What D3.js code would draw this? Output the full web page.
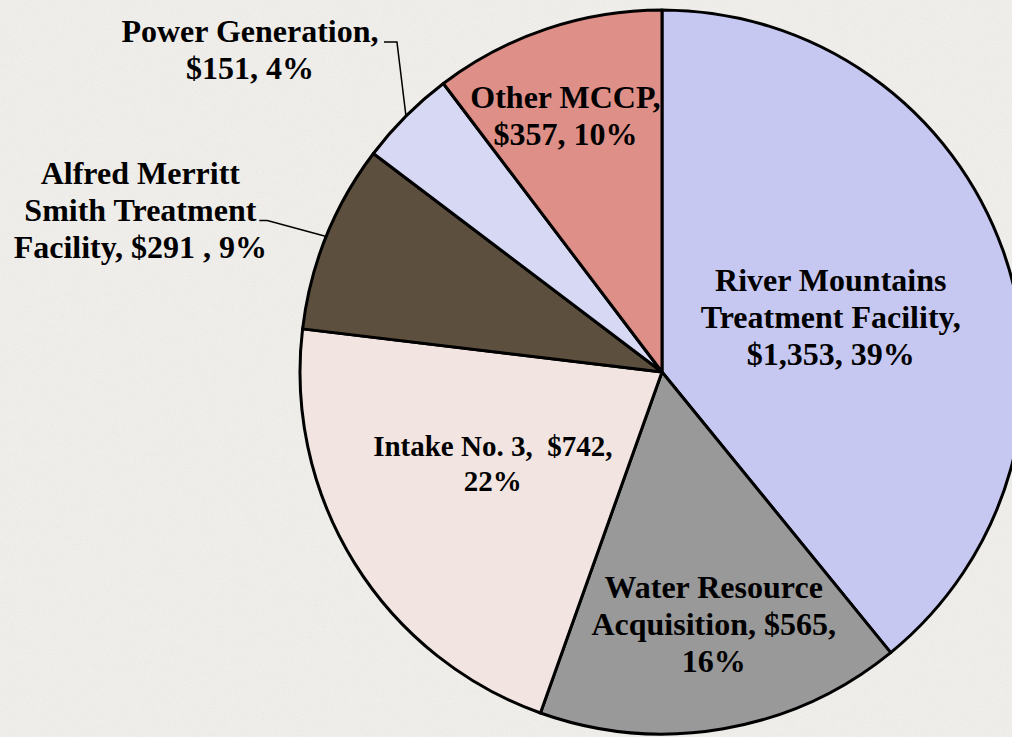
<!DOCTYPE html>
<html>
<head>
<meta charset="utf-8">
<script src="https://cdn.jsdelivr.net/npm/d3@7"></script>
<style>
  html, body { margin: 0; padding: 0; background: #f0eeea; overflow: hidden; }
  svg { display: block; }
  text { font-family: "Liberation Serif", "Times New Roman", serif; font-weight: bold; font-size: 32px; fill: #000; white-space: pre; }
</style>
</head>
<body>
<div id="chart"></div>
<script>
// slices, clockwise from 12 o'clock
const categories = [
  "River Mountains Treatment Facility",
  "Water Resource Acquisition",
  "Intake No. 3",
  "Alfred Merritt Smith Treatment Facility",
  "Power Generation",
  "Other MCCP"
];
const values = [1353, 565, 742, 291, 151, 357];
const percents = [39, 16, 22, 9, 4, 10];
// label text, line by line, as printed on the chart
const labelLines = [
  ["River Mountains", "Treatment Facility,", "$1,353, 39%"],
  ["Water Resource", "Acquisition, $565,", "16%"],
  ["Intake No. 3,  $742,", "22%"],
  ["Alfred Merritt", "Smith Treatment", "Facility, $291 , 9%"],
  ["Power Generation,", "$151, 4%"],
  ["Other MCCP,", "$357, 10%"]
];
const colors = ["#c7c8f1", "#999999", "#f2e5e1", "#5c4f3d", "#d7d8f4", "#de8f87"];

var width = 1012;
var height = 737;
var cx = 662, cy = 372, radius = 362;

// inside labels: radius along mid angle + small nudge; outside labels get a leader
const labelPlace = [
  { r: 177, dx: 2, dy: 5 },
  { r: 257, dx: 8, dy: -1 },
  { r: 192, dx: -6, dy: -9, size: 29, lh: 35 },
  { leader: true, elbow: [-59, -16], hook: -8, text: [-119, -10] },
  { leader: true, elbow: [-9, -74], hook: -13, text: [-134, 8] },
  { r: 275, dx: -9, dy: 5 }
];

const svg = d3.select("#chart").append("svg")
  .attr("width", width)
  .attr("height", height);

// paper-like texture
const defs = svg.append("defs");
const paper = defs.append("filter").attr("id", "paper")
  .attr("x", 0).attr("y", 0).attr("width", "100%").attr("height", "100%");
paper.append("feTurbulence")
  .attr("type", "fractalNoise").attr("baseFrequency", 0.9)
  .attr("numOctaves", 2).attr("seed", 3).attr("result", "noise");
paper.append("feColorMatrix").attr("in", "noise").attr("type", "matrix")
  .attr("values", "0 0 0 0 0.55  0 0 0 0 0.53  0 0 0 0 0.5  0 0 0 -2.2 1.25");

svg.append("rect").attr("width", width).attr("height", height).attr("fill", "#f0eeea");
svg.append("rect").attr("width", width).attr("height", height)
  .attr("filter", "url(#paper)").attr("opacity", 0.15);

const data = categories.map((c, i) => ({ name: c, value: values[i], pct: percents[i], lines: labelLines[i] }));

const pie = d3.pie().sort(null).value(d => d.value);
const arc = d3.arc().innerRadius(0).outerRadius(radius);
const arcs = pie(data);

const g = svg.append("g").attr("transform", `translate(${cx},${cy})`);

g.selectAll("path.slice")
  .data(arcs)
  .join("path")
  .attr("class", "slice")
  .attr("d", arc)
  .attr("fill", (d, i) => colors[i])
  .attr("stroke", "#000")
  .attr("stroke-width", 3)
  .attr("stroke-linejoin", "round");

function polar(angle, r) {
  return [r * Math.sin(angle), -r * Math.cos(angle)];
}

function addLabel(x, y, lines, size, lh) {
  size = size || 32;
  lh = lh || 37;
  const n = lines.length;
  const t = g.append("text").attr("text-anchor", "middle").style("font-size", size + "px");
  lines.forEach((l, k) => {
    t.append("tspan")
      .attr("x", x)
      .attr("y", y - (n - 1) * lh / 2 + k * lh + size * 0.33)
      .text(l);
  });
}

arcs.forEach((a, i) => {
  const mid = (a.startAngle + a.endAngle) / 2;
  const p = labelPlace[i];
  if (p.leader) {
    const p0 = polar(mid, radius);
    const p1 = [p0[0] + p.elbow[0], p0[1] + p.elbow[1]];
    const p2 = [p1[0] + p.hook, p1[1]];
    g.append("path")
      .attr("d", d3.line()([p0, p1, p2]))
      .attr("fill", "none")
      .attr("stroke", "#000")
      .attr("stroke-width", 1.5);
    addLabel(p2[0] + p.text[0], p2[1] + p.text[1], a.data.lines, p.size, p.lh);
  } else {
    const [x, y] = polar(mid, p.r);
    addLabel(x + p.dx, y + p.dy, a.data.lines, p.size, p.lh);
  }
});
</script>
</body>
</html>
